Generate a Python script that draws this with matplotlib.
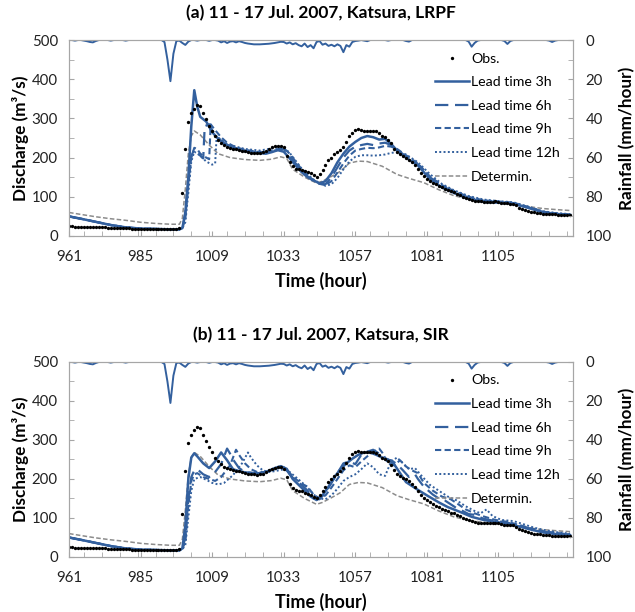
import numpy as np
import matplotlib
matplotlib.use("Agg")
import matplotlib.pyplot as plt
from matplotlib.ticker import MultipleLocator

plt.rcParams["font.family"] = ["Lato", "DejaVu Sans"]

T0 = 961
# observed discharge, hourly from t=961 (shared by both panels)
obs = [
    25, 25, 24, 24, 24, 23, 23, 23,
    23, 22, 22, 22, 22, 21, 21, 21,
    21, 21, 20, 20, 20, 19, 19, 19,
    18, 18, 18, 18, 18, 18, 17, 17,
    17, 17, 17, 17, 17, 20, 110, 221,
    292, 313, 325, 334, 332, 313, 298, 281,
    268, 255, 245, 238, 232, 228, 225, 222,
    221, 220, 218, 216, 214, 213, 212, 211,
    212, 214, 218, 222, 226, 229, 230, 230,
    226, 205, 188, 178, 172, 170, 168, 165,
    162, 160, 155, 150, 158, 168, 180, 193,
    200, 208, 214, 220, 228, 240, 254, 264,
    270, 272, 270, 268, 268, 268, 268, 267,
    262, 255, 252, 246, 236, 222, 214, 208,
    203, 199, 195, 188, 180, 170, 160, 152,
    146, 141, 136, 132, 128, 124, 120, 117,
    114, 112, 108, 104, 100, 97, 94, 92,
    90, 88, 88, 87, 86, 86, 87, 88,
    86, 84, 83, 83, 82, 82, 78, 72,
    68, 66, 64, 62, 60, 59, 58, 57,
    57, 56, 55, 55, 54, 54, 54, 53,
    53,
]
# rainfall (mm/hour), hourly from t=961
rain = [
    0, 0, 0.3, 0, 0, 0.3, 0.6, 1.0,
    1.2, 0.5, 0, 0, 0, 0, 0.3, 0,
    0, 0, 0, 0.3, 0, 0, 0, 0,
    0, 0, 0, 0, 0, 0, 0, 0,
    1.0, 10, 21, 7, 0.5, 0.3, 1.5, 2.5,
    0.8, 0, 0, 0.3, 0, 0, 0, 0.4,
    0, 0, 0.3, 1.2, 0.6, 1.5, 0.8, 0.6,
    1.2, 0.6, 1.0, 1.5, 1.8, 2.0, 2.2, 2.2,
    2.2, 2.1, 2.0, 1.9, 1.7, 1.5, 1.2, 0.9,
    1.0, 1.8, 1.2, 2.2, 1.6, 2.6, 3.2, 1.8,
    3.6, 2.6, 4.2, 1.0, 0.5, 2.4, 1.8, 3.0,
    2.4, 3.2, 2.2, 3.0, 6.2, 2.6, 3.4, 1.0,
    0.5, 0.3, 0, 0.3, 0.6, 0, 0, 0,
    0, 0, 0, 0.3, 0, 0, 0, 0,
    0, 0.5, 0.8, 0, 0, 0, 0, 0,
    0, 0, 0, 0, 0, 0, 0, 0,
    0, 0, 0, 0, 0, 0, 0.8, 3.4,
    1.5, 0.3, 0, 0, 0, 0, 0, 0,
    0, 0, 0.5, 2.0, 0.5, 0, 0, 0,
    0, 0, 0, 0, 0, 0, 0, 0,
    0, 0.3, 1.0, 0.3, 0, 0, 0, 0,
    0,
]

# deterministic run (shared)
det_t = [961, 965, 970, 975, 980, 985, 990, 995, 998, 999, 1000, 1001, 1002, 1003, 1005,
         1008, 1011, 1015, 1020, 1025, 1029, 1032, 1034, 1036, 1040, 1044, 1046, 1049,
         1052, 1055, 1058, 1061, 1066, 1071, 1075, 1080, 1085, 1090, 1095, 1100, 1105,
         1110, 1115, 1120, 1125, 1129]
det_q = [60, 55, 49, 44, 40, 35, 32, 30, 30, 45, 120, 210, 255, 268, 258,
         232, 210, 200, 195, 193, 196, 202, 198, 170, 150, 135, 140, 152,
         165, 186, 191, 190, 178, 157, 147, 136, 118, 103, 94, 89, 85,
         80, 75, 70, 67, 65]

# common low-flow start for all lead times
base_t = [961, 965, 970, 975, 980, 985, 990, 995, 998]
base_q = [50, 44, 36, 28, 22, 19, 18, 17, 17]

# (a) LRPF
a3_t = [999, 1000, 1001, 1002, 1003, 1004, 1005, 1007, 1009, 1011, 1013, 1016, 1020, 1024,
        1027, 1029, 1031, 1033, 1035, 1037, 1039, 1041, 1043, 1045, 1047, 1049, 1051, 1053,
        1055, 1057, 1059, 1061, 1063, 1065, 1067, 1069, 1071, 1074, 1078, 1082, 1086, 1090,
        1095, 1100, 1105, 1110, 1115, 1120, 1125, 1129]
a3_q = [20, 60, 150, 280, 372, 330, 304, 292, 265, 248, 236, 225, 216, 212,
        210, 214, 219, 215, 198, 180, 163, 150, 142, 134, 140, 160, 188, 210,
        228, 240, 250, 255, 252, 246, 248, 235, 218, 200, 180, 145, 124, 110,
        95, 87, 85, 82, 72, 60, 56, 54]
a6_t = [999, 1000, 1001, 1002, 1003, 1004, 1005, 1006, 1006.5, 1008, 1009, 1011, 1013, 1016,
        1020, 1024, 1027, 1030, 1033, 1035, 1037, 1039, 1041, 1043, 1045, 1047, 1049, 1051,
        1053, 1055, 1057, 1059, 1061, 1063, 1065, 1067, 1069, 1071, 1074, 1078, 1082, 1086,
        1090, 1095, 1100, 1105, 1110, 1115, 1120, 1125, 1129]
a6_q = [20, 55, 140, 205, 220, 215, 205, 198, 280, 285, 270, 250, 236, 226,
        218, 213, 212, 218, 222, 205, 185, 167, 152, 140, 133, 132, 150, 175,
        200, 218, 228, 232, 235, 232, 236, 238, 232, 220, 203, 182, 150, 128,
        113, 98, 90, 86, 84, 72, 61, 56, 54]
a9_t = [999, 1000, 1001, 1002, 1003, 1004, 1005, 1007, 1008, 1008.5, 1010, 1012, 1014, 1017,
        1020, 1024, 1027, 1030, 1033, 1035, 1037, 1039, 1041, 1043, 1045, 1047, 1049, 1051,
        1053, 1055, 1057, 1059, 1061, 1063, 1065, 1067, 1069, 1071, 1074, 1078, 1082, 1086,
        1090, 1095, 1100, 1105, 1110, 1115, 1120, 1125, 1129]
a9_q = [20, 45, 130, 200, 225, 222, 210, 200, 196, 285, 270, 252, 238, 226,
        220, 215, 214, 220, 224, 210, 190, 170, 155, 142, 133, 130, 140, 162,
        185, 205, 218, 222, 225, 224, 226, 230, 228, 222, 206, 185, 152, 130,
        115, 100, 91, 88, 85, 74, 62, 57, 55]
a12_t = [999, 1000, 1001, 1002, 1003, 1005, 1007, 1009, 1010, 1010.5, 1012, 1014, 1016, 1020,
         1025, 1030, 1033, 1035, 1037, 1039, 1041, 1043, 1045, 1047, 1049, 1051, 1053, 1055,
         1057, 1059, 1061, 1063, 1065, 1067, 1069, 1071, 1074, 1078, 1082, 1086, 1090, 1095,
         1100, 1105, 1110, 1115, 1120, 1125, 1129]
a12_q = [20, 35, 110, 190, 215, 205, 190, 182, 185, 255, 245, 235, 230, 222,
         218, 225, 226, 212, 192, 172, 157, 144, 135, 128, 132, 148, 170, 190,
         202, 206, 206, 205, 206, 208, 212, 214, 208, 188, 158, 133, 117, 102,
         93, 89, 86, 75, 63, 58, 56]

# (b) SIR
b3_t = [999, 1000, 1001, 1002, 1003, 1004, 1006, 1008, 1010, 1012, 1014, 1016, 1018, 1020,
        1024, 1027, 1030, 1032, 1034, 1036, 1038, 1040, 1042, 1044, 1046, 1048, 1050, 1052,
        1054, 1056, 1058, 1060, 1062, 1064, 1066, 1068, 1070, 1072, 1074, 1076, 1078, 1081,
        1085, 1088, 1092, 1096, 1100, 1104, 1108, 1112, 1116, 1120, 1125, 1129]
b3_q = [22, 80, 200, 255, 266, 258, 240, 228, 245, 268, 248, 225, 220, 217,
        214, 218, 228, 233, 226, 200, 185, 170, 155, 146, 158, 180, 205, 225,
        240, 252, 262, 268, 268, 262, 255, 250, 238, 215, 192, 182, 172, 158,
        140, 128, 116, 103, 95, 90, 85, 78, 70, 63, 58, 56]
b6_t = [999, 1000, 1001, 1002, 1003, 1004, 1006, 1008, 1010, 1012, 1014, 1015, 1016, 1018,
        1020, 1024, 1027, 1030, 1033, 1035, 1037, 1039, 1041, 1043, 1045, 1047, 1049, 1051,
        1053, 1055, 1057, 1059, 1061, 1063, 1065, 1067, 1069, 1071, 1073, 1075, 1077, 1078,
        1080, 1083, 1085, 1087, 1089, 1091, 1093, 1095, 1097, 1100, 1104, 1108, 1112, 1116,
        1120, 1125, 1129]
b6_q = [20, 50, 150, 205, 222, 225, 212, 205, 218, 238, 278, 265, 250, 228,
        218, 214, 218, 226, 232, 212, 195, 185, 170, 150, 148, 165, 190, 215,
        240, 245, 238, 262, 270, 275, 265, 250, 248, 238, 222, 205, 212, 200,
        180, 160, 150, 145, 135, 125, 118, 110, 108, 98, 92, 88, 80, 72,
        65, 60, 57]
b9_t = [999, 1000, 1001, 1002, 1003, 1004, 1006, 1008, 1010, 1012, 1015, 1017, 1018, 1020,
        1022, 1024, 1027, 1030, 1033, 1035, 1037, 1039, 1041, 1043, 1045, 1047, 1049, 1051,
        1053, 1055, 1057, 1059, 1061, 1063, 1065, 1066, 1068, 1070, 1072, 1074, 1076, 1078,
        1080, 1083, 1086, 1089, 1091, 1094, 1097, 1100, 1104, 1108, 1112, 1116, 1120, 1125,
        1129]
b9_q = [20, 40, 130, 195, 212, 215, 205, 200, 195, 205, 235, 275, 262, 240,
        225, 218, 218, 225, 230, 215, 200, 188, 180, 160, 150, 158, 178, 200,
        222, 235, 230, 245, 258, 270, 278, 268, 240, 235, 248, 232, 222, 215,
        190, 170, 155, 148, 138, 122, 112, 104, 95, 90, 82, 73, 66, 61,
        58]
b12_t = [999, 1000, 1001, 1002, 1003, 1005, 1007, 1009, 1011, 1013, 1016, 1019, 1021, 1022,
         1024, 1026, 1028, 1030, 1033, 1035, 1037, 1039, 1041, 1043, 1045, 1047, 1049, 1051,
         1053, 1055, 1057, 1059, 1061, 1063, 1065, 1067, 1069, 1071, 1073, 1075, 1077, 1079,
         1082, 1085, 1088, 1091, 1094, 1097, 1099, 1101, 1103, 1106, 1110, 1113, 1117, 1121,
         1125, 1129]
b12_q = [20, 30, 100, 170, 200, 205, 198, 190, 186, 190, 210, 240, 268, 255,
         235, 222, 218, 220, 225, 218, 205, 192, 178, 160, 150, 148, 158, 175,
         195, 205, 212, 225, 240, 230, 212, 208, 245, 255, 240, 225, 228, 210,
         185, 170, 155, 145, 130, 118, 112, 122, 105, 95, 92, 85, 75, 68,
         63, 60]

BLUE = "#33609e"
GRID_GRAY = "#a6a6a6"
LABEL_FS = 12.3
TICK_FS = 10.8


def panel(ax, title, leads):
    hours = np.arange(T0, T0 + len(obs))
    ax.plot(hours, obs, "o", color="black", ms=2.4, mew=0, label="Obs.", zorder=6)
    styles = [("-", 1.8, "Lead time 3h"),
              ((0, (6, 3)), 1.6, "Lead time 6h"),
              ((0, (3, 1.6)), 1.5, "Lead time 9h"),
              ((0, (1, 1.2)), 1.4, "Lead time 12h")]
    for (lt, lq), (ls, lw, lab) in zip(leads, styles):
        ax.plot(base_t + lt, base_q + lq, color=BLUE, ls=ls, lw=lw, label=lab, zorder=4)
    ax.plot(det_t, det_q, color="#8c8c8c", ls=(0, (3, 1.5)), lw=1.1, label="Determin.", zorder=3)

    ax.set_xlim(961, 1130)
    ax.set_ylim(0, 500)
    ax.set_xticks(np.arange(961, 1106, 24))
    ax.xaxis.set_minor_locator(MultipleLocator(6))
    ax.yaxis.set_major_locator(MultipleLocator(100))
    ax.yaxis.set_minor_locator(MultipleLocator(50))
    ax.tick_params(axis="both", which="both", direction="in", length=3.5,
                   color=GRID_GRAY, labelsize=TICK_FS, labelcolor="#222222")
    ax.tick_params(axis="x", pad=10)
    ax.tick_params(axis="y", pad=8)
    for s in ax.spines.values():
        s.set_color(GRID_GRAY)
    ax.set_xlabel("Time (hour)", fontsize=13, fontweight="bold", labelpad=6)
    ax.set_ylabel("Discharge (m³/s)", fontsize=LABEL_FS, fontweight="bold", labelpad=2)
    ax.set_title(title, fontsize=12.5, fontweight="bold", pad=16)

    ax2 = ax.twinx()
    ax2.plot(np.arange(T0, T0 + len(rain)), rain, color=BLUE, lw=1.4)
    ax2.set_ylim(100, 0)
    ax2.yaxis.set_major_locator(MultipleLocator(20))
    ax2.yaxis.set_minor_locator(MultipleLocator(10))
    ax2.tick_params(axis="y", which="both", direction="in", length=3.5,
                    color=GRID_GRAY, labelsize=TICK_FS, labelcolor="#222222", pad=9)
    for s in ax2.spines.values():
        s.set_color(GRID_GRAY)
    ax2.set_ylabel("Rainfall (mm/hour)", fontsize=LABEL_FS, fontweight="bold", labelpad=5)

    h, l = ax.get_legend_handles_labels()
    ax2.legend(h, l, loc="upper right", bbox_to_anchor=(0.985, 0.965), frameon=False,
               fontsize=10.2, handlelength=2.4, handletextpad=0.15, labelspacing=0.82,
               borderaxespad=0, markerscale=1.0)


fig = plt.figure(figsize=(6.35, 6.12), dpi=100)
ax_a = fig.add_axes([0.1087, 0.6144, 0.7937, 0.3202])
ax_b = fig.add_axes([0.1087, 0.0899, 0.7937, 0.3186])
panel(ax_a, "(a) 11 - 17 Jul. 2007, Katsura, LRPF",
      [(a3_t, a3_q), (a6_t, a6_q), (a9_t, a9_q), (a12_t, a12_q)])
panel(ax_b, "(b) 11 - 17 Jul. 2007, Katsura, SIR",
      [(b3_t, b3_q), (b6_t, b6_q), (b9_t, b9_q), (b12_t, b12_q)])
fig.savefig("out.png", dpi=100)
